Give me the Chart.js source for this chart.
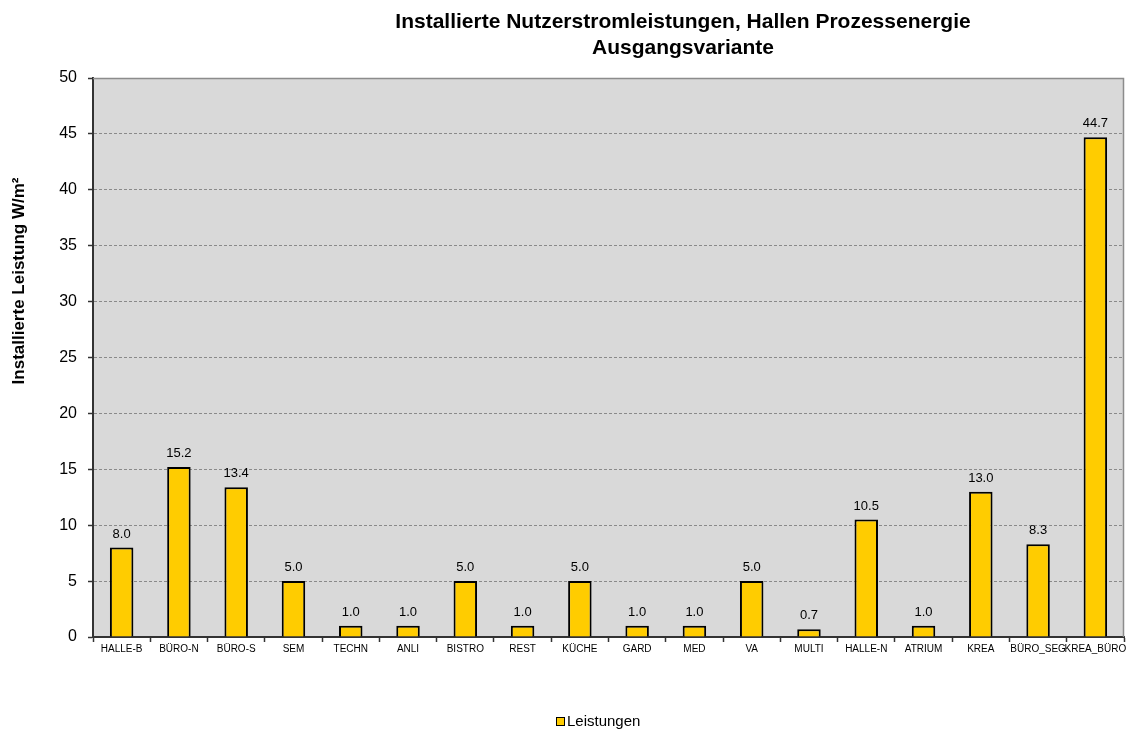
<!DOCTYPE html>
<html>
<head>
<meta charset="utf-8">
<script src="https://cdn.jsdelivr.net/npm/chart.js@4/dist/chart.umd.min.js"></script>
<style>
  body { margin: 0; background: #ffffff; }
  #wrap { width: 1132px; height: 731px; }
</style>
</head>
<body>
<div id="wrap"><canvas id="myChart" width="1132" height="731"></canvas></div>
<script>
const FONT = "'Liberation Sans', Arial, sans-serif";

const titleLines = ["Installierte Nutzerstromleistungen, Hallen Prozessenergie", "Ausgangsvariante"];
const yAxisTitle = "Installierte Leistung W/m²";
const seriesName = "Leistungen";

const categories = ["HALLE-B", "BÜRO-N", "BÜRO-S", "SEM", "TECHN", "ANLI", "BISTRO", "REST", "KÜCHE",
  "GARD", "MED", "VA", "MULTI", "HALLE-N", "ATRIUM", "KREA", "BÜRO_SEG", "KREA_BÜRO"];
const leistungen = [8.0, 15.2, 13.4, 5.0, 1.0, 1.0, 5.0, 1.0, 5.0,
  1.0, 1.0, 5.0, 0.7, 10.5, 1.0, 13.0, 8.3, 44.7];

const yMin = 0;
const yMax = 50;
const yStep = 5;

// grey plot background + top/right frame
const plotBackground = {
  id: "plotBackground",
  beforeDraw(chart) {
    const { ctx, chartArea } = chart;
    ctx.save();
    ctx.fillStyle = "#d9d9d9";
    ctx.fillRect(chartArea.left, chartArea.top, chartArea.right - chartArea.left, chartArea.bottom - chartArea.top);
    ctx.restore();
  },
  afterDraw(chart) {
    const { ctx, chartArea } = chart;
    ctx.save();
    ctx.strokeStyle = "#8c8c8c";
    ctx.lineWidth = 1.5;
    ctx.beginPath();
    ctx.moveTo(chartArea.left, chartArea.top + 0.5);
    ctx.lineTo(chartArea.right - 0.5, chartArea.top + 0.5);
    ctx.lineTo(chartArea.right - 0.5, chartArea.bottom);
    ctx.stroke();
    ctx.restore();
  }
};

// value labels above the bars
const valueLabels = {
  id: "valueLabels",
  afterDatasetsDraw(chart) {
    const { ctx } = chart;
    const meta = chart.getDatasetMeta(0);
    const values = chart.data.datasets[0].data;
    ctx.save();
    ctx.font = "13px " + FONT;
    ctx.fillStyle = "#000000";
    ctx.textAlign = "center";
    ctx.textBaseline = "alphabetic";
    meta.data.forEach((bar, i) => {
      ctx.fillText(values[i].toFixed(1), bar.x, bar.y - 10);
    });
    ctx.restore();
  }
};

// title, rotated axis title and legend
const textParts = {
  id: "textParts",
  afterDraw(chart) {
    const { ctx } = chart;
    ctx.save();
    ctx.fillStyle = "#000000";
    ctx.textAlign = "center";
    ctx.textBaseline = "alphabetic";
    ctx.font = "bold 21px " + FONT;
    ctx.fillText(titleLines[0], 683, 28);
    ctx.fillText(titleLines[1], 683, 54);

    ctx.save();
    ctx.translate(19, 281);
    ctx.rotate(-Math.PI / 2);
    ctx.font = "bold 17px " + FONT;
    ctx.textBaseline = "middle";
    ctx.fillText(yAxisTitle, 0, 0);
    ctx.restore();

    const ds = chart.data.datasets[0];
    ctx.fillStyle = ds.backgroundColor;
    ctx.fillRect(556.5, 717.5, 8, 8);
    ctx.strokeStyle = "#000000";
    ctx.lineWidth = 1;
    ctx.strokeRect(556.5, 717.5, 8, 8);
    ctx.fillStyle = "#000000";
    ctx.font = "15px " + FONT;
    ctx.textAlign = "left";
    ctx.textBaseline = "middle";
    ctx.fillText(ds.label, 567, 722);
    ctx.restore();
  }
};

let ctx = document.getElementById("myChart").getContext("2d");
let chart = new Chart(ctx, {
  type: "bar",
  data: {
    labels: categories,
    datasets: [
      {
        label: seriesName,
        data: leistungen,
        backgroundColor: "#ffcc00",
        borderColor: "#000000",
        borderWidth: 2,
        barPercentage: 0.41,
        categoryPercentage: 1.0
      }
    ]
  },
  options: {
    responsive: false,
    animation: false,
    layout: {
      padding: { top: 78, right: 8, left: 0, bottom: 0 }
    },
    plugins: {
      legend: { display: false },
      title: { display: false },
      tooltip: { enabled: false }
    },
    scales: {
      x: {
        offset: true,
        grid: {
          offset: true,
          drawOnChartArea: false,
          drawTicks: true,
          tickLength: 5,
          tickColor: "#333333",
          tickWidth: 1.5
        },
        border: { color: "#333333", width: 2 },
        ticks: {
          autoSkip: false,
          maxRotation: 0,
          minRotation: 0,
          padding: 1,
          color: "#000000",
          font: { family: FONT, size: 10 }
        },
        afterFit(scale) {
          scale.height = 94;
        }
      },
      y: {
        min: yMin,
        max: yMax,
        grid: {
          color: c => (c.tick.value === yMin || c.tick.value === yMax) ? "rgba(0,0,0,0)" : "#8a8a8a",
          tickLength: 5,
          tickColor: "#333333",
          tickWidth: 1.5
        },
        border: { color: "#333333", width: 2, dash: [3, 2] },
        ticks: {
          stepSize: yStep,
          padding: 11,
          color: "#000000",
          font: { family: FONT, size: 16 }
        },
        afterFit(scale) {
          scale.width = 93;
        }
      }
    }
  },
  plugins: [plotBackground, valueLabels, textParts]
});
</script>
</body>
</html>
